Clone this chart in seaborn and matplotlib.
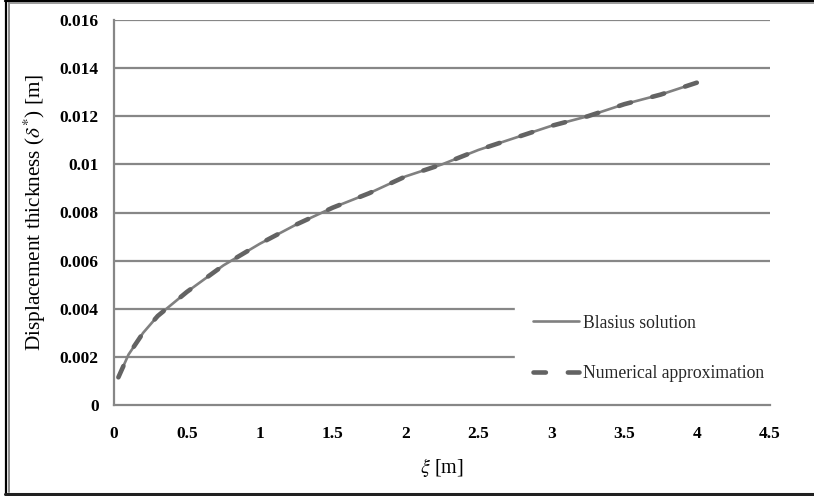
import matplotlib
matplotlib.use("Agg")
import matplotlib.pyplot as plt
from matplotlib.lines import Line2D
import seaborn as sns
import pandas as pd

# Streamwise position xi [m]
xi = [0.03, 0.1, 0.2, 0.3, 0.4, 0.5, 0.75, 1.0, 1.25, 1.5, 1.75, 2.0,
      2.25, 2.5, 2.75, 3.0, 3.25, 3.5, 3.75, 4.0]
# Displacement thickness [m]
blasius = [0.00115, 0.0021, 0.0030, 0.0037, 0.0042, 0.0047, 0.0058, 0.0067,
           0.0075, 0.0082, 0.0088, 0.0095, 0.0100, 0.0106, 0.0111, 0.0116,
           0.0120, 0.0125, 0.0129, 0.0134]
numerical = [0.00115, 0.0021, 0.0030, 0.0037, 0.0042, 0.0047, 0.0058, 0.0067,
             0.0075, 0.0082, 0.0088, 0.0095, 0.0100, 0.0106, 0.0111, 0.0116,
             0.0120, 0.0125, 0.0129, 0.0134]

x_ticks = [0, 0.5, 1, 1.5, 2, 2.5, 3, 3.5, 4, 4.5]
x_tick_labels = ["0", "0.5", "1", "1.5", "2", "2.5", "3", "3.5", "4", "4.5"]
y_ticks = [0, 0.002, 0.004, 0.006, 0.008, 0.01, 0.012, 0.014, 0.016]
y_tick_labels = ["0", "0.002", "0.004", "0.006", "0.008", "0.01", "0.012",
                 "0.014", "0.016"]

series_names = ["Blasius solution", "Numerical approximation"]

sns.set_theme(style="white")
plt.rcParams["font.family"] = ["Liberation Serif", "DejaVu Serif"]
plt.rcParams["mathtext.fontset"] = "stix"

W, H = 814, 496
fig = plt.figure(figsize=(W / 100, H / 100), dpi=100)
ax = fig.add_axes([114 / W, 1 - 405 / H, (770 - 114) / W, (405 - 20) / H])

grid_color = "#878787"
for yv in y_ticks[1:]:
    ax.axhline(yv, color=grid_color, lw=1.6, zorder=0)

df_b = pd.DataFrame({"xi": xi, "delta": blasius})
df_n = pd.DataFrame({"xi": xi, "delta": numerical})

sns.lineplot(data=df_b, x="xi", y="delta", ax=ax, color="#808080",
             linewidth=1.9, label=series_names[0], zorder=3)
sns.lineplot(data=df_n, x="xi", y="delta", ax=ax, color="#636363",
             linewidth=3.3, label=series_names[1], zorder=4)
num_line = ax.lines[-1]
num_line.set_dashes((2.7, 4.8))
num_line.set_dash_capstyle("round")
num_line.set_solid_capstyle("round")

ax.set_xlim(0, 4.5)
ax.set_ylim(0, 0.016)
ax.set_xticks(x_ticks)
ax.set_xticklabels(x_tick_labels)
ax.set_yticks(y_ticks)
ax.set_yticklabels(y_tick_labels)
ax.tick_params(axis="both", length=0, labelsize=12.5, colors="black")
ax.tick_params(axis="y", pad=11)
ax.tick_params(axis="x", pad=15)
for lbl in ax.get_xticklabels() + ax.get_yticklabels():
    lbl.set_fontweight("bold")

for side in ["top", "right"]:
    ax.spines[side].set_visible(False)
for side in ["left", "bottom"]:
    ax.spines[side].set_color(grid_color)
    ax.spines[side].set_linewidth(1.6)

ax.set_xlabel(r"$\xi$ [m]", fontsize=14.5, labelpad=10, color="black")
ax.set_ylabel(r"Displacement thickness ($\delta^{*}$) [m]", fontsize=15.3,
              labelpad=8, color="black")

leg = ax.legend(loc="upper left",
                bbox_to_anchor=((515 - 114) / 656, (405 - 297) / 385),
                bbox_transform=ax.transAxes, borderaxespad=0,
                frameon=True, facecolor="white", edgecolor="white",
                framealpha=1, fancybox=False, fontsize=12.7,
                handlelength=2.6, handletextpad=0.25, borderpad=1.0,
                labelspacing=1.9)
leg.set_zorder(5)

# double border round the figure
def hline(y, x0, x1, color, lw):
    fig.add_artist(Line2D([x0 / W, x1 / W], [1 - y / H, 1 - y / H],
                          transform=fig.transFigure, color=color, lw=lw))

def vline(x, y0, y1, color, lw):
    fig.add_artist(Line2D([x / W, x / W], [1 - y0 / H, 1 - y1 / H],
                          transform=fig.transFigure, color=color, lw=lw))

vline(6, 0, 495, "black", 1.6)
vline(9, 2, 492, "#8a8a8a", 1.4)
hline(0.8, 5, W + 2, "black", 1.6)
hline(3, 9, W + 2, "#8a8a8a", 1.2)
hline(493.5, 5, W + 2, "#202020", 2.2)

fig.savefig("out.png", dpi=100)
